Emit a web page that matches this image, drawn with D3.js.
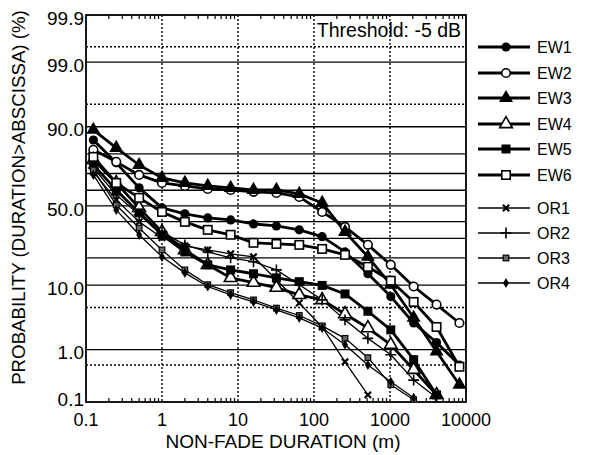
<!DOCTYPE html>
<html><head><meta charset="utf-8">
<script src="https://cdn.jsdelivr.net/npm/d3@7"></script>
<style>html,body{margin:0;padding:0;background:#fff;} svg{display:block;font-family:"Liberation Sans",Arial,Helvetica,sans-serif;}</style>
</head><body><svg id="c" width="596" height="455"></svg>
<script>
// ---------- data ----------
const durations = [0.125,0.25,0.5,1,2,4,8,16,32,64,128,256,512,1024,2048,4096,8192];
const EW1 = [85.7,75.7,61.5,48.7,44.9,42.3,41.0,38.5,37.3,34.9,30.9,22.8,13.6,7.1,2.9,1.35,0.50];
const EW2 = [81.8,76.2,69.2,64.5,62.7,60.8,60.2,59.0,58.3,55.8,46.1,36.7,26.4,17.0,9.6,5.5,2.9];
const EW3 = [89.1,82.6,74.6,67.5,64.5,62.7,61.5,60.2,60.2,57.7,51.9,33.7,20.5,10.1,3.5,0.92,0.19];
const EW4 = [77.2,64.5,48.7,33.7,23.8,17.0,12.2,10.7,9.3,7.5,6.4,4.0,2.4,1.23,0.40,0.111];
const EW5 = [74.6,60.2,45.5,32.0,22.8,17.0,15.0,13.6,12.2,11.0,9.9,7.7,4.4,2.24,0.64,0.111];
const EW6 = [78.6,64.5,55.2,46.1,39.8,34.9,32.0,27.5,26.9,26.4,24.3,21.4,16.2,11.3,6.0,2.5,0.46];
const OR1 = [70.9,53.9,39.8,30.3,25.9,23.8,21.9,20.5,11.6,5.8,2.5,0.58,0.111];
const OR2 = [73.0,57.1,44.2,33.7,26.4,22.8,20.0,18.3,15.0,10.1,6.4,3.25,1.6,0.80,0.24,0.095];
const OR3 = [72.0,50.6,36.0,23.8,15.0,10.1,8.0,6.4,4.9,3.8,2.6,1.6,0.70,0.19,0.085];
const OR4 = [69.2,47.4,32.0,20.5,13.9,9.6,7.5,6.0,4.6,3.5,2.4,1.23,0.50,0.22,0.095];

const seriesNames = ["EW1","EW2","EW3","EW4","EW5","EW6","OR1","OR2","OR3","OR4"];
const seriesValues = [EW1,EW2,EW3,EW4,EW5,EW6,OR1,OR2,OR3,OR4];
const seriesMarkers = ["circleFilled","circleOpen","triFilled","triOpen","sqFilled","sqOpen","times","plus","sqSmall","diamond"];

const xTicks = [0.1,1,10,100,1000,10000];
const xTickLabels = ["0.1","1","10","100","1000","10000"];
const yTicks = [0.1,1,10,50,90,99,99.9];
const yTickLabels = ["0.1","1.0","10.0","50.0","90.0","99.0","99.9"];
const ySolidGrid = [1,10,20,30,40,50,60,70,80,90,99];
const yDottedGrid = [0.5,5,95,99.5];
const xDottedGrid = [1,10,100,1000];
const xTitle = "NON-FADE DURATION (m)";
const yTitle = "PROBABILITY (DURATION>ABSCISSA) (%)";
const note = "Threshold: -5 dB";

// ---------- helpers ----------
function probit(p){
  const a=[-3.969683028665376e+01,2.209460984245205e+02,-2.759285104469687e+02,1.383577518672690e+02,-3.066479806614716e+01,2.506628277459239e+00];
  const b=[-5.447609879822406e+01,1.615858368580409e+02,-1.556989798598866e+02,6.680131188771972e+01,-1.328068155288572e+01];
  const c=[-7.784894002430293e-03,-3.223964580411365e-01,-2.400758277161838e+00,-2.549671039303234e+00,4.374664141464968e+00,2.938163982698783e+00];
  const d=[7.784695709041462e-03,3.224671290700398e-01,2.445134137142996e+00,3.754408661907416e+00];
  const pl=0.02425, ph=1-pl; let q,r;
  if(p<pl){q=Math.sqrt(-2*Math.log(p));return (((((c[0]*q+c[1])*q+c[2])*q+c[3])*q+c[4])*q+c[5])/((((d[0]*q+d[1])*q+d[2])*q+d[3])*q+1);}
  if(p<=ph){q=p-0.5;r=q*q;return (((((a[0]*r+a[1])*r+a[2])*r+a[3])*r+a[4])*r+a[5])*q/(((((b[0]*r+b[1])*r+b[2])*r+b[3])*r+b[4])*r+1);}
  q=Math.sqrt(-2*Math.log(1-p));return -(((((c[0]*q+c[1])*q+c[2])*q+c[3])*q+c[4])*q+c[5])/((((d[0]*q+d[1])*q+d[2])*q+d[3])*q+1);
}

const L=86, R=466, T=15, B=402;
const svg = d3.select("#c");
const x = d3.scaleLog().domain([0.1,10000]).range([L,R]);
const z = d3.scaleLinear().domain([probit(0.00075), probit(0.999)]).range([B,T]);
const y = v => z(probit(v/100));

svg.append("defs").append("clipPath").attr("id","clip")
  .append("rect").attr("x",L).attr("y",T).attr("width",R-L).attr("height",B-T);

// grid
const g = svg.append("g");
g.selectAll(".hs").data(ySolidGrid).join("line")
  .attr("x1",L).attr("x2",R).attr("y1",d=>y(d)).attr("y2",d=>y(d))
  .attr("stroke","#000").attr("stroke-width",1.3);
g.selectAll(".hd").data(yDottedGrid).join("line")
  .attr("x1",L).attr("x2",R).attr("y1",d=>y(d)).attr("y2",d=>y(d))
  .attr("stroke","#000").attr("stroke-width",1.4).attr("stroke-dasharray","2,2");
g.selectAll(".vd").data(xDottedGrid).join("line")
  .attr("y1",T).attr("y2",B).attr("x1",d=>x(d)).attr("x2",d=>x(d))
  .attr("stroke","#000").attr("stroke-width",1.4).attr("stroke-dasharray","2,2");

// minor ticks top & bottom
const minor = [];
[0.1,1,10,100,1000].forEach(dec=>{for(let k=2;k<=9;k++) minor.push(dec*k);});
g.selectAll(".mt").data(minor).join("line")
  .attr("x1",d=>x(d)).attr("x2",d=>x(d)).attr("y1",B).attr("y2",B-4)
  .attr("stroke","#000").attr("stroke-width",1.2);
g.selectAll(".mtt").data(minor).join("line")
  .attr("x1",d=>x(d)).attr("x2",d=>x(d)).attr("y1",T).attr("y2",T+4)
  .attr("stroke","#000").attr("stroke-width",1.2);

// frame
svg.append("rect").attr("x",L).attr("y",T).attr("width",R-L).attr("height",B-T)
  .attr("fill","none").attr("stroke","#000").attr("stroke-width",1.8);

// axis labels
svg.append("g").selectAll("text").data(xTicks).join("text")
  .attr("x",d=>x(d)).attr("y",426).attr("text-anchor","middle")
  .attr("font-size",18).text((d,i)=>xTickLabels[i]);
svg.append("g").selectAll("text").data(yTicks).join("text")
  .attr("x",84).attr("y",d=>y(d)+3).attr("dy","0.35em").attr("text-anchor","end")
  .attr("font-size",19).text((d,i)=>yTickLabels[i]);
svg.append("text").attr("x",(L+R)/2+7).attr("y",448).attr("text-anchor","middle")
  .attr("font-size",19).text(xTitle);
svg.append("text").attr("transform",`translate(25,${(T+B)/2-11}) rotate(-90)`)
  .attr("text-anchor","middle").attr("font-size",18.7).text(yTitle);
svg.append("text").attr("x",461).attr("y",37).attr("text-anchor","end")
  .attr("font-size",19.5).text(note);

// markers
function drawMarker(sel, type){
  switch(type){
    case "circleFilled": sel.append("circle").attr("r",4.6).attr("fill","#000"); break;
    case "circleOpen": sel.append("circle").attr("r",4.3).attr("fill","#fff").attr("stroke","#000").attr("stroke-width",1.6); break;
    case "triFilled": sel.append("path").attr("d",d3.symbol(d3.symbolTriangle,85)()).attr("fill","#000"); break;
    case "triOpen": sel.append("path").attr("d",d3.symbol(d3.symbolTriangle,70)()).attr("fill","#fff").attr("stroke","#000").attr("stroke-width",1.6); break;
    case "sqFilled": sel.append("rect").attr("x",-4.5).attr("y",-4.5).attr("width",9).attr("height",9).attr("fill","#000"); break;
    case "sqOpen": sel.append("rect").attr("x",-4.2).attr("y",-4.2).attr("width",8.4).attr("height",8.4).attr("fill","#fff").attr("stroke","#000").attr("stroke-width",1.6); break;
    case "times": sel.append("path").attr("d",d3.symbol(d3.symbolTimes,28)()).attr("fill","none").attr("stroke","#000").attr("stroke-width",2.2); break;
    case "plus": sel.append("path").attr("d",d3.symbol(d3.symbolPlus,40)()).attr("fill","none").attr("stroke","#000").attr("stroke-width",1.6); break;
    case "sqSmall": sel.append("rect").attr("x",-2.8).attr("y",-2.8).attr("width",5.6).attr("height",5.6).attr("fill","#666").attr("stroke","#000").attr("stroke-width",1.2); break;
    case "diamond": sel.append("path").attr("d",d3.symbol(d3.symbolDiamond,30)()).attr("fill","#000"); break;
  }
}

const plot = svg.append("g").attr("clip-path","url(#clip)");
const line = d3.line().x(d=>x(d[0])).y(d=>y(d[1]));
seriesValues.forEach((vals,si)=>{
  const pts = vals.map((v,i)=>[durations[i],v]);
  const isEW = si<6;
  plot.append("path").datum(pts).attr("d",line).attr("fill","none")
    .attr("stroke","#000").attr("stroke-width",isEW?2.8:1.3).attr("stroke-linejoin","round");
});
seriesValues.forEach((vals,si)=>{
  const pts = vals.map((v,i)=>[durations[i],v]);
  plot.append("g").selectAll("g").data(pts).join("g")
    .attr("transform",d=>`translate(${x(d[0])},${y(d[1])})`)
    .each(function(){drawMarker(d3.select(this), seriesMarkers[si]);});
});

// legend
const legendY = [47,73,98,124,149,175,208,233,258,283];
const lg = svg.append("g");
seriesNames.forEach((name,si)=>{
  const yy = legendY[si], isEW = si<6;
  lg.append("line").attr("x1",478).attr("x2",530).attr("y1",yy).attr("y2",yy)
    .attr("stroke","#000").attr("stroke-width",isEW?2.8:1.3);
  drawMarker(lg.append("g").attr("transform",`translate(506,${yy})`), seriesMarkers[si]);
  lg.append("text").attr("x",537).attr("y",yy).attr("dy","0.36em").attr("font-size",16).text(name);
});
</script></body></html>
